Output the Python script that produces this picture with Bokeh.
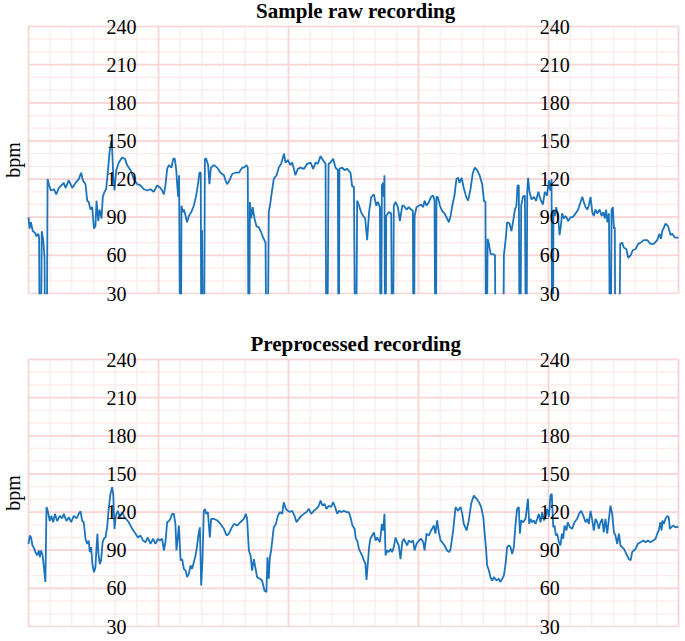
import math
import numpy as np
from bokeh.plotting import figure
from bokeh.models import Range1d
from bokeh.layouts import column
from bokeh.core.properties import value
from bokeh.embed import file_html
from bokeh.resources import INLINE

# ---------------- data ----------------
titles = ["Sample raw recording", "Preprocessed recording"]
y_label = "bpm"
y_ticks = [30, 60, 90, 120, 150, 180, 210, 240]
y_minor = list(range(30, 241, 10))
x_major = [0, 6, 12, 18, 24, 30]          # minutes
x_minor = list(range(0, 31))

raw_t = [0, 0.05, 0.11, 0.2, 0.29, 0.38, 0.45, 0.49, 0.51, 0.58, 0.61, 0.68, 0.74, 0.76, 0.85, 0.88,
         0.94, 1.03, 1.17, 1.28, 1.4, 1.52, 1.63, 1.71, 1.86, 2.02, 2.17, 2.32, 2.43, 2.51, 2.63, 2.71,
         2.78, 2.86, 2.94, 3.02, 3.09, 3.14, 3.22, 3.28, 3.37, 3.43, 3.51, 3.58, 3.66, 3.74, 3.82, 3.86,
         3.91, 3.97, 4.05, 4.17, 4.32, 4.45, 4.55, 4.71, 4.86, 5.02, 5.17, 5.32, 5.48, 5.63, 5.78, 5.94,
         6.09, 6.17, 6.25, 6.32, 6.4, 6.48, 6.6, 6.68, 6.75, 6.82, 6.86, 6.91, 6.95, 6.99, 7.04, 7.06,
         7.12, 7.18, 7.25, 7.32, 7.4, 7.51, 7.63, 7.74, 7.83, 7.89, 7.95, 7.97, 7.99, 8.01, 8.04, 8.11,
         8.14, 8.2, 8.29, 8.35, 8.42, 8.55, 8.71, 8.86, 9.02, 9.09, 9.17, 9.28, 9.4, 9.55, 9.71, 9.86,
         9.94, 10.06, 10.12, 10.15, 10.19, 10.22, 10.28, 10.35, 10.43, 10.52, 10.63, 10.74, 10.83, 10.94, 10.97, 11.05,
         11.09, 11.17, 11.25, 11.32, 11.45, 11.55, 11.66, 11.79, 11.86, 11.97, 12.09, 12.17, 12.25, 12.32, 12.43, 12.55,
         12.71, 12.86, 13.02, 13.14, 13.25, 13.35, 13.48, 13.59, 13.71, 13.74, 13.8, 13.85, 13.94, 14.06, 14.17, 14.28,
         14.3, 14.33, 14.35, 14.48, 14.58, 14.71, 14.86, 14.94, 15.02, 15.07, 15.13, 15.17, 15.26, 15.35, 15.45, 15.54,
         15.63, 15.72, 15.82, 15.94, 16.05, 16.12, 16.22, 16.24, 16.28, 16.31, 16.37, 16.4, 16.43, 16.45, 16.49, 16.51,
         16.63, 16.74, 16.77, 16.83, 16.86, 16.94, 17.05, 17.14, 17.25, 17.32, 17.45, 17.55, 17.66, 17.74, 17.76, 17.8,
         17.82, 17.91, 18.02, 18.12, 18.22, 18.28, 18.37, 18.48, 18.58, 18.68, 18.74, 18.77, 18.81, 18.83, 18.89, 18.99,
         19.09, 19.2, 19.32, 19.4, 19.48, 19.57, 19.66, 19.75, 19.83, 19.89, 19.99, 20.09, 20.2, 20.29, 20.4, 20.51,
         20.6, 20.71, 20.82, 20.94, 21.02, 21.09, 21.11, 21.16, 21.19, 21.25, 21.33, 21.43, 21.53, 21.55, 21.92, 21.94,
         22.02, 22.09, 22.2, 22.29, 22.36, 22.45, 22.52, 22.57, 22.63, 22.66, 22.71, 22.74, 22.82, 22.91, 22.95, 22.99,
         23.02, 23.06, 23.12, 23.22, 23.33, 23.43, 23.53, 23.63, 23.74, 23.83, 23.93, 24.02, 24.08, 24.14, 24.16, 24.21,
         24.23, 24.29, 24.36, 24.45, 24.51, 24.57, 24.63, 24.71, 24.79, 24.91, 25.02, 25.12, 25.25, 25.37, 25.48, 25.56,
         25.63, 25.71, 25.79, 25.86, 25.94, 26.02, 26.09, 26.17, 26.25, 26.36, 26.45, 26.53, 26.6, 26.66, 26.72, 26.79,
         26.83, 26.88, 26.91, 26.97, 27.02, 27.06, 27.08, 27.28, 27.31, 27.4, 27.48, 27.59, 27.68, 27.79, 27.89, 28.02,
         28.14, 28.25, 28.4, 28.56, 28.71, 28.86, 29.02, 29.12, 29.19, 29.25, 29.33, 29.4, 29.52, 29.63, 29.71, 29.83,
         30]
raw_bpm = [90, 81, 86, 79, 78, 75, 77, 74, 0, 0, 79, 72, 58, 0, 0, 120,
           116, 111, 112, 108, 113, 115, 117, 113, 119, 113, 117, 120, 125, 119, 116, 103,
           102, 96, 98, 81, 83, 103, 87, 96, 89, 106, 110, 112, 125, 141, 150, 144,
           123, 111, 127, 133, 137, 136, 131, 127, 120, 116, 115, 112, 111, 112, 110, 115,
           113, 111, 108, 115, 128, 131, 129, 136, 136, 127, 116, 106, 123, 0, 0, 99,
           94, 96, 91, 86, 91, 94, 99, 107, 117, 125, 125, 0, 0, 80, 0, 0,
           136, 136, 131, 116, 129, 131, 129, 125, 123, 119, 116, 119, 124, 125, 125, 129,
           129, 131, 129, 0, 0, 102, 89, 98, 89, 83, 82, 78, 74, 70, 0, 0,
           94, 102, 112, 120, 123, 129, 132, 140, 133, 135, 131, 133, 128, 123, 128, 129,
           128, 132, 133, 128, 133, 132, 138, 135, 132, 0, 0, 132, 133, 136, 129, 127,
           0, 0, 128, 129, 127, 128, 125, 114, 114, 0, 0, 103, 99, 94, 91, 89,
           72, 94, 106, 108, 99, 102, 98, 0, 0, 115, 117, 106, 123, 0, 0, 91,
           94, 93, 0, 0, 99, 102, 98, 87, 99, 99, 96, 98, 96, 95, 0, 0,
           91, 98, 99, 100, 98, 103, 99, 102, 106, 107, 103, 0, 0, 106, 106, 99,
           95, 93, 89, 86, 91, 100, 107, 120, 121, 117, 121, 113, 106, 103, 112, 125,
           129, 127, 123, 116, 103, 102, 0, 0, 73, 69, 61, 61, 60, 0, 0, 60,
           72, 86, 85, 79, 86, 96, 99, 115, 115, 0, 0, 99, 106, 107, 0, 0,
           111, 121, 110, 104, 106, 103, 110, 104, 100, 110, 107, 119, 111, 120, 0, 0,
           96, 91, 98, 89, 76, 83, 93, 89, 91, 87, 90, 90, 93, 96, 102, 106,
           102, 98, 96, 99, 106, 94, 91, 96, 93, 96, 91, 94, 89, 96, 86, 93,
           0, 0, 96, 98, 81, 82, 0, 0, 69, 70, 66, 65, 58, 60, 64, 65,
           69, 70, 72, 72, 69, 69, 72, 77, 73, 79, 82, 85, 83, 76, 77, 74,
           74]

pre_t = [0, 0.06, 0.12, 0.18, 0.25, 0.32, 0.4, 0.48, 0.52, 0.58, 0.65, 0.71, 0.78, 0.83, 0.89, 0.98,
         1.05, 1.14, 1.22, 1.32, 1.45, 1.55, 1.63, 1.75, 1.86, 1.97, 2.09, 2.22, 2.32, 2.4, 2.48, 2.55,
         2.63, 2.71, 2.78, 2.83, 2.89, 2.95, 3.02, 3.09, 3.14, 3.18, 3.23, 3.29, 3.35, 3.42, 3.48, 3.55,
         3.63, 3.71, 3.78, 3.86, 3.91, 3.97, 4.03, 4.12, 4.22, 4.32, 4.43, 4.63, 4.78, 4.94, 5.05, 5.17,
         5.29, 5.4, 5.51, 5.63, 5.75, 5.86, 5.97, 6.06, 6.17, 6.25, 6.32, 6.4, 6.48, 6.55, 6.63, 6.71,
         6.78, 6.83, 6.89, 6.94, 7.02, 7.09, 7.17, 7.25, 7.32, 7.4, 7.48, 7.55, 7.63, 7.71, 7.78, 7.86,
         7.91, 7.97, 8.03, 8.09, 8.15, 8.2, 8.28, 8.37, 8.43, 8.55, 8.71, 8.86, 9.02, 9.14, 9.25, 9.35,
         9.48, 9.63, 9.78, 9.94, 10.03, 10.09, 10.17, 10.25, 10.32, 10.4, 10.48, 10.55, 10.68, 10.78, 10.89, 10.98,
         11.03, 11.09, 11.14, 11.2, 11.26, 11.32, 11.42, 11.51, 11.6, 11.71, 11.78, 11.88, 11.97, 12.06, 12.17, 12.28,
         12.37, 12.48, 12.59, 12.71, 12.83, 12.94, 13.05, 13.17, 13.29, 13.4, 13.48, 13.57, 13.66, 13.75, 13.86, 13.97,
         14.06, 14.15, 14.25, 14.34, 14.43, 14.55, 14.68, 14.78, 14.86, 14.95, 15.05, 15.11, 15.17, 15.25, 15.32, 15.4,
         15.48, 15.55, 15.6, 15.66, 15.72, 15.78, 15.86, 15.94, 16.02, 16.09, 16.22, 16.31, 16.37, 16.43, 16.48, 16.55,
         16.63, 16.71, 16.78, 16.86, 16.94, 17.02, 17.09, 17.17, 17.25, 17.32, 17.4, 17.48, 17.55, 17.66, 17.75, 17.82,
         17.91, 18.02, 18.12, 18.22, 18.28, 18.37, 18.48, 18.58, 18.71, 18.78, 18.86, 18.94, 19.02, 19.09, 19.2, 19.32,
         19.42, 19.48, 19.6, 19.71, 19.82, 19.94, 20.02, 20.09, 20.22, 20.32, 20.43, 20.55, 20.68, 20.79, 20.89, 20.99,
         21.05, 21.11, 21.17, 21.25, 21.32, 21.4, 21.48, 21.6, 21.71, 21.78, 21.86, 21.94, 22.02, 22.09, 22.17, 22.25,
         22.32, 22.4, 22.48, 22.55, 22.63, 22.68, 22.74, 22.83, 22.94, 23.05, 23.11, 23.17, 23.25, 23.32, 23.4, 23.48,
         23.55, 23.63, 23.71, 23.79, 23.86, 23.94, 24.02, 24.09, 24.15, 24.22, 24.28, 24.34, 24.4, 24.48, 24.55, 24.62,
         24.68, 24.74, 24.83, 24.89, 24.99, 25.09, 25.2, 25.32, 25.41, 25.51, 25.57, 25.63, 25.71, 25.79, 25.86, 25.94,
         26.02, 26.09, 26.17, 26.25, 26.32, 26.4, 26.48, 26.55, 26.63, 26.71, 26.78, 26.86, 26.94, 27.02, 27.09, 27.17,
         27.25, 27.32, 27.4, 27.48, 27.55, 27.63, 27.71, 27.79, 27.86, 27.94, 28.02, 28.12, 28.25, 28.37, 28.48, 28.58,
         28.71, 28.83, 28.94, 29.02, 29.09, 29.17, 29.22, 29.26, 29.32, 29.4, 29.48, 29.55, 29.6, 29.66, 29.75, 29.86,
         30]
pre_bpm = [95, 101.5, 100, 93.7, 92, 88.5, 86, 89.7, 84.5, 89.7, 86, 76.7, 65, 124, 121, 113,
           117, 112, 118.6, 113, 117, 115, 118.6, 113, 116, 112, 117, 115, 118.6, 120.7, 113, 112,
           99, 95, 97.6, 88.5, 92.4, 79, 72.7, 76.7, 92.4, 102.9, 87, 79, 82, 96, 99, 100,
           108, 124, 134, 139.6, 134, 106.8, 117, 121, 116, 120, 116, 112, 107, 103, 100, 101.5,
           97.6, 96.3, 100, 95, 99, 95, 99, 97.6, 99, 89.8, 96.3, 112, 113, 114.7, 118.6, 118.6,
           110.7, 89.8, 100, 109.4, 82, 83, 75.4, 74, 68.8, 71.4, 78, 75.4, 80.6, 85.8, 93.7, 104,
           108, 62.2, 82, 121, 122.5, 118.6, 120, 100, 114.7, 114.7, 113.4, 110.7, 106.8, 101.6, 103, 106.8,
           110.7, 109.4, 112, 114.7, 118.6, 114.7, 89.8, 85.8, 74, 83, 75.4, 68.8, 67.5, 66.2, 58.3, 57,
           84.5, 67.5, 84.5, 89.8, 99, 108, 110.7, 117, 120, 118.6, 127.8, 122.5, 121, 120, 121, 117,
           112, 114.7, 117, 118.6, 120, 122.5, 118.6, 121, 122.5, 125, 129, 125, 126.5, 122.5, 125, 124,
           127.8, 124, 118.6, 121, 120, 121, 120, 120, 116, 109.4, 106.8, 99, 97.6, 91, 88.5, 85.8,
           82, 79.3, 66.7, 79.3, 92.4, 99, 101.6, 104, 97.6, 100, 96.3, 110.7, 105.5, 118.6, 85.8, 89.8,
           88.5, 91, 88.5, 92.4, 100, 96.3, 93.7, 83, 96.3, 99, 96.3, 93.7, 97.6, 96.3, 97.6, 89.8,
           95, 97.6, 99, 96.3, 89.8, 103, 101.6, 105.5, 109.4, 103, 113.4, 104, 97.6, 96.3, 93.7, 89.8,
           88.5, 91, 105.5, 124, 121, 124, 118.6, 110.7, 105.5, 113.4, 126.5, 133, 130.4, 127.8, 124, 116,
           104, 92.4, 78, 74, 68.8, 66.2, 68.8, 66.2, 67.5, 65, 67.5, 70, 79.3, 92.4, 93.7, 92.4,
           87, 92.4, 110.7, 122.5, 124, 103, 113.4, 112, 114.7, 130.4, 110.7, 114.7, 112, 113.4, 110.7, 114.7,
           118.6, 112, 120, 113.4, 116, 122.5, 116, 133, 134.3, 108, 109.4, 101.6, 103, 96.3, 93.7, 103,
           99, 109.4, 105.5, 112, 108, 106.8, 112, 114.7, 118.6, 121, 118.6, 116, 112, 114.7, 110.7, 121,
           113.4, 105.5, 114.7, 112, 106.8, 112, 114.7, 104, 114.7, 103, 113.4, 125, 118.6, 104, 101.6, 95,
           103, 93.7, 92.4, 91, 88.5, 85.8, 83, 82, 88.5, 89.8, 91, 95, 96.3, 97.6, 96.3, 97.6,
           96.3, 97.6, 99, 103, 105.5, 112, 105.5, 113.4, 110.7, 114.7, 117, 116, 106.8, 108, 109.4, 108,
           108.6]

# ---------------- style / geometry ----------------
LINE = "#1a74bd"
MAJOR = "#f8d4d4"
MINOR = "#fdeaea"
SERIF = "Liberation Serif"
W = 685
PLOT_L, PLOT_R = 28, 678          # pixel edges of the grid area
SX = (PLOT_R - PLOT_L) / 30.0     # px per minute


def panel(title, t, bpm, height, top_px, bottom_px):
    sy = (bottom_px - top_px) / 210.0        # px per bpm
    x0 = -PLOT_L / SX
    x1 = 30 + (W - PLOT_R) / SX
    y1 = 240 + top_px / sy
    y0 = 30 - (height - bottom_px) / sy
    p = figure(width=W, height=height, output_backend="svg", toolbar_location=None,
               x_axis_type=None, y_axis_type=None,
               x_range=Range1d(x0, x1), y_range=Range1d(y0, y1), min_border=0)
    p.outline_line_color = None
    p.background_fill_color = "white"
    p.border_fill_color = "white"

    # grid (minor then major), confined to the chart area
    p.segment(x0=x_minor, y0=[30] * len(x_minor), x1=x_minor, y1=[240] * len(x_minor),
              line_color=MINOR, line_width=1.3)
    p.segment(x0=[0] * len(y_minor), y0=y_minor, x1=[30] * len(y_minor), y1=y_minor,
              line_color=MINOR, line_width=1.3)
    p.segment(x0=x_major, y0=[30] * len(x_major), x1=x_major, y1=[240] * len(x_major),
              line_color=MAJOR, line_width=1.7)
    p.segment(x0=[0] * len(y_ticks), y0=y_ticks, x1=[30] * len(y_ticks), y1=y_ticks,
              line_color=MAJOR, line_width=1.7)

    p.line(t, bpm, line_color=LINE, line_width=1.8)
    # white mask: the trace is cut off at the 30 bpm floor
    p.quad(left=[x0], right=[x1], bottom=[y0], top=[30 - 0.8 / sy],
           fill_color="white", line_color=None)

    for xpos in (3.6, 23.6):
        p.text(x=[xpos] * len(y_ticks), y=y_ticks, text=[str(v) for v in y_ticks],
               text_font=value(SERIF), text_font_size=value("20px"),
               text_color="black", text_align="left", text_baseline="middle")

    p.text(x=[15.1], y=[240 + 16 / sy], text=[title], text_font=value(SERIF),
           text_font_size=value("21px"), text_font_style=value("bold"),
           text_color="black", text_align="center", text_baseline="middle")
    p.text(x=[(12 - PLOT_L) / SX], y=[135], text=[y_label], text_font=value(SERIF),
           text_font_size=value("20px"), angle=math.pi / 2,
           text_color="black", text_align="center", text_baseline="middle")
    return p


p1 = panel(titles[0], raw_t, raw_bpm, height=320, top_px=26, bottom_px=293)
p2 = panel(titles[1], pre_t, pre_bpm, height=320, top_px=39, bottom_px=306)

layout = column(p1, p2)
open("out.html", "w").write(file_html(layout, INLINE))
